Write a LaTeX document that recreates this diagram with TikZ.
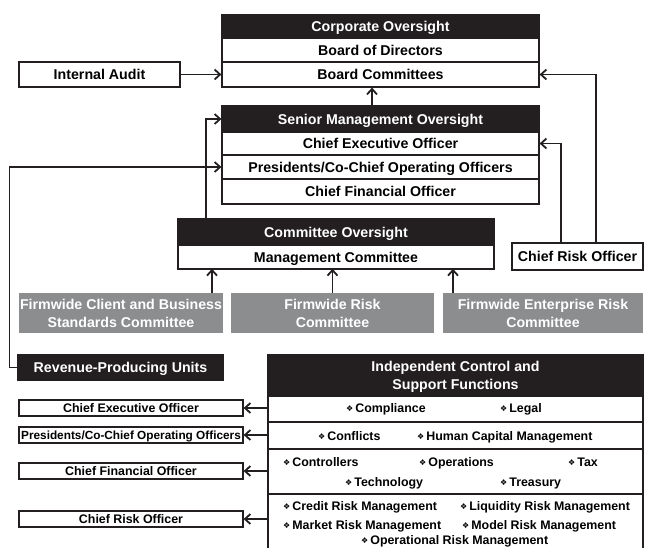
\documentclass[tikz,border=0pt]{standalone}
\usepackage{fontspec}
\setmainfont{Liberation Sans}
\newfontfamily\djv{DejaVu Sans}
\usetikzlibrary{arrows.meta}
\definecolor{ink}{HTML}{231F20}
\definecolor{gbx}{HTML}{8C8D8F}
\newcommand\bigf{\bfseries\fontsize{14.2}{18}\selectfont}
\newcommand\smf{\bfseries\fontsize{12.4}{15}\selectfont}
\newcommand\presf{\bfseries\fontsize{11.8}{15}\selectfont}
\newcommand\dmd{\raisebox{1.2pt}{\djv\fontsize{8}{8}\selectfont ❖}\hspace{2pt}}
\begin{document}
\begin{tikzpicture}[x=1pt,y=-1pt,
  hdr/.style={fill=ink,draw=ink,line width=1.2pt,text=white,font=\bigf,inner sep=0pt,text height=10.2pt,text depth=0pt,align=center},
  hdrtwo/.style={fill=ink,draw=ink,line width=1.2pt,text=white,font=\bigf,inner sep=0pt,text height=28.2pt,text depth=0pt,align=center},
  rowbox/.style={draw=ink,line width=1.2pt,fill=white,font=\bigf,inner sep=0pt,text height=10.2pt,text depth=0pt},
  gbox/.style={fill=gbx,text=white,font=\bigf,inner sep=0pt,text height=28.2pt,text depth=0pt,align=center},
  lbox/.style={draw=ink,line width=1.2pt,font=\smf,inner sep=0pt,text height=8.9pt,text depth=0pt,minimum width=224pt,minimum height=16pt},
  item/.style={anchor=base west,font=\smf,inner sep=0pt},
  arr/.style={draw=ink,line width=1.8pt,-{Straight Barb[length=5.5pt,width=10pt]}},
]
\fill[white] (0,0) rectangle (645,548);
\useasboundingbox (0,0) rectangle (645,548);

% Corporate oversight
\node[hdr,minimum width=317pt,minimum height=23pt] (coh) at (380.5,26.5) {Corporate Oversight};
\node[rowbox,minimum width=317pt,minimum height=24pt] (bod) at (380.5,50) {Board of Directors};
\node[rowbox,minimum width=317pt,minimum height=25pt] (bc) at (380.5,74.5) {Board Committees};
\node[rowbox,minimum width=161pt,minimum height=25pt] (ia) at (99.5,74.5) {Internal Audit};

% Senior management oversight
\node[hdr,minimum width=317pt,minimum height=26pt] (smh) at (380.5,119) {Senior Management Oversight};
\node[rowbox,minimum width=317pt,minimum height=23pt] (sceo) at (380.5,143.5) {Chief Executive Officer};
\node[rowbox,minimum width=317pt,minimum height=24pt] (spres) at (380.5,167) {Presidents/Co-Chief Operating Officers};
\node[rowbox,minimum width=317pt,minimum height=25pt] (scfo) at (380.5,191.5) {Chief Financial Officer};

% Committee oversight
\node[hdr,minimum width=316pt,minimum height=26pt] (cmh) at (336,232) {Committee Oversight};
\node[rowbox,minimum width=316pt,minimum height=24pt] (mc) at (336,257) {Management Committee};
\node[rowbox,minimum width=131pt,minimum height=27pt] (cro) at (577.5,256.5) {Chief Risk Officer};

% Gray committees
\node[gbox,minimum width=204pt,minimum height=40pt] (g1) at (121,313) {Firmwide Client and Business\\Standards Committee};
\node[gbox,minimum width=203pt,minimum height=40pt] (g2) at (332.5,313) {Firmwide Risk\\Committee};
\node[gbox,minimum width=200pt,minimum height=40pt] (g3) at (543,313) {Firmwide Enterprise Risk\\Committee};

% Revenue-producing units
\node[hdr,minimum width=205pt,minimum height=25pt] (rev) at (120.5,367.5) {Revenue-Producing Units};

% Independent control and support functions
\node[hdrtwo,minimum width=375pt,minimum height=41pt] (ich) at (455.5,375.5) {Independent Control and\\Support Functions};
\node[draw=ink,line width=1.2pt,minimum width=375pt,minimum height=26pt,inner sep=0pt] (r1) at (455.5,409) {};
\node[draw=ink,line width=1.2pt,minimum width=375pt,minimum height=27pt,inner sep=0pt] (r2) at (455.5,435.5) {};
\node[draw=ink,line width=1.2pt,minimum width=375pt,minimum height=45pt,inner sep=0pt] (r3) at (455.5,471.5) {};
\node[draw=ink,line width=1.2pt,minimum width=375pt,minimum height=58pt,inner sep=0pt] (r4) at (455.5,523) {};

\node[item] (i1) at (346,412.5) {\dmd Compliance};
\node[item] (i2) at (500,412.5) {\dmd Legal};
\node[item] (i3) at (318,440.5) {\dmd Conflicts};
\node[item] (i4) at (417,440.5) {\dmd Human Capital Management};
\node[item] (i5) at (283,466.5) {\dmd Controllers};
\node[item] (i6) at (419,466.5) {\dmd Operations};
\node[item] (i7) at (568,466.5) {\dmd Tax};
\node[item] (i8) at (345,486.5) {\dmd Technology};
\node[item] (i9) at (500,486.5) {\dmd Treasury};
\node[item] (i10) at (283,510.5) {\dmd Credit Risk Management};
\node[item] (i11) at (460,510.5) {\dmd Liquidity Risk Management};
\node[item] (i12) at (283,529.5) {\dmd Market Risk Management};
\node[item] (i13) at (462,529.5) {\dmd Model Risk Management};
\node[item] (i14) at (361,544.5) {\dmd Operational Risk Management};

% Left boxes
\node[lbox] (lceo) at (131,408) {Chief Executive Officer};
\node[lbox,font=\presf,text height=8.4pt] (lpres) at (131,435) {Presidents/Co-Chief Operating Officers};
\node[lbox] (lcfo) at (131,471) {Chief Financial Officer};
\node[lbox] (lcro) at (131,519) {Chief Risk Officer};

% Connectors
\draw[arr] (ia.east) -- (bc.west);
\draw[arr] ([xshift=-8.5pt]smh.north) -- ([xshift=-8.5pt]bc.south);
\draw[arr] ([xshift=18.5pt]cro.north) |- (bc.east);
\draw[arr] ([xshift=-16.5pt]cro.north) |- (sceo.east);
\draw[arr] ([xshift=-130pt]cmh.north) |- (smh.west);
\draw[arr] (rev.west) -- ++(-8,0) |- (spres.west);
\draw[arr] ([xshift=91pt]g1.north) -- ++(0,-24);
\draw[arr] (g2.north) -- ++(0,-24);
\draw[arr] ([xshift=-90pt]g3.north) -- ++(0,-24);
\draw[arr] (r1.west |- lceo.east) -- (lceo.east);
\draw[arr] (r2.west |- lpres.east) -- (lpres.east);
\draw[arr] (r3.west |- lcfo.east) -- (lcfo.east);
\draw[arr] (r4.west |- lcro.east) -- (lcro.east);
\end{tikzpicture}
\end{document}
